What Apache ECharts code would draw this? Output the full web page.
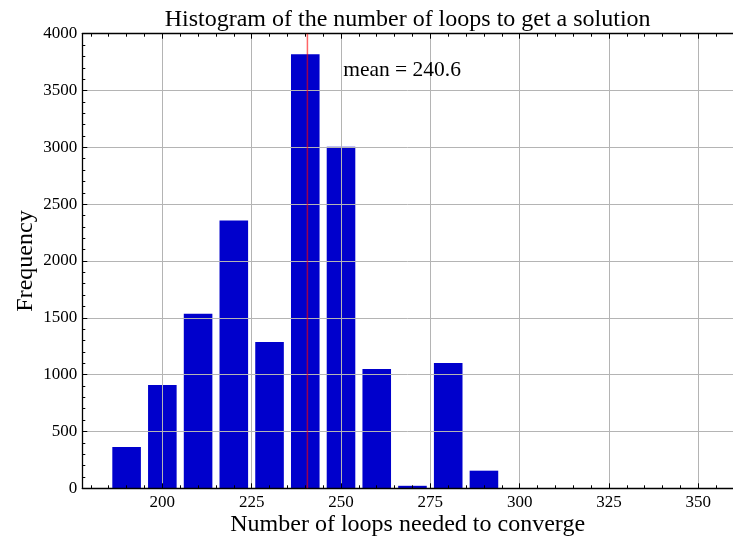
<!DOCTYPE html>
<html>
<head>
<meta charset="utf-8">
<title>Histogram of loops</title>
<script src="https://cdn.jsdelivr.net/npm/echarts@6/dist/echarts.min.js"></script>
<style>
  html, body { margin: 0; padding: 0; background: #ffffff; }
  #chart { width: 733px; height: 537px; }
</style>
</head>
<body>
<div id="chart"></div>
<script>
// Histogram bins: centres of 10-wide bins and their counts
const binCenters = [190, 200, 210, 220, 230, 240, 250, 260, 270, 280, 290];
const binCounts = [363, 909, 1535, 2356, 1287, 3820, 3005, 1050, 22, 1103, 155];
const binWidth = 10;
const barFraction = 0.8;
const meanLoops = 240.6;

// Axis ticks
const xMajorTicks = [200, 225, 250, 275, 300, 325, 350];
const xMinorTicks = [180, 185, 190, 195, 205, 210, 215, 220, 230, 235, 240, 245,
  255, 260, 265, 270, 280, 285, 290, 295, 305, 310, 315, 320, 330, 335, 340, 345, 355];

const FONT = "'Liberation Serif', 'DejaVu Serif', serif";
const xMin = 177.6, xMax = 359.7;

const chart = echarts.init(document.getElementById('chart'), null, { renderer: 'canvas' });

const baseX = {
  type: 'value', min: xMin, max: xMax, z: 5,
  splitLine: { show: false },
  axisLabel: { show: false },
  axisLine: { show: false },
  axisTick: { show: false }
};

chart.setOption({
  animation: false,
  backgroundColor: '#ffffff',
  grid: {
    left: 82.3, right: 0, top: 33.7, bottom: 48.7,
    containLabel: false, outerBoundsMode: 'none'
  },
  xAxis: [
    Object.assign({}, baseX, {
      position: 'bottom',
      name: 'Number of loops needed to converge',
      nameLocation: 'middle',
      nameMoveOverlap: false,
      nameGap: 24,
      nameTextStyle: { fontFamily: FONT, fontSize: 24, color: '#000' },
      axisLine: { show: true, lineStyle: { color: '#000', width: 1.3 } },
      axisTick: { show: true, inside: true, length: 5, customValues: xMajorTicks,
        lineStyle: { color: '#000', width: 1 } },
      axisLabel: { show: true, customValues: xMajorTicks, margin: 6,
        fontFamily: FONT, fontSize: 17, color: '#000' },
      splitLine: { show: true, lineStyle: { color: '#b4b4b4', width: 1 } }
    }),
    Object.assign({}, baseX, {
      position: 'bottom',
      axisTick: { show: true, inside: true, length: 3, customValues: xMinorTicks,
        lineStyle: { color: '#000', width: 1 } }
    }),
    Object.assign({}, baseX, {
      position: 'top',
      name: 'Histogram of the number of loops to get a solution',
      nameLocation: 'middle',
      nameMoveOverlap: false,
      nameGap: 2,
      nameTextStyle: { fontFamily: FONT, fontSize: 24, color: '#000' },
      axisLine: { show: true, lineStyle: { color: '#000', width: 1.3 } },
      axisTick: { show: true, inside: true, length: 5, customValues: xMajorTicks,
        lineStyle: { color: '#000', width: 1 } }
    }),
    Object.assign({}, baseX, {
      position: 'top',
      axisTick: { show: true, inside: true, length: 3, customValues: xMinorTicks,
        lineStyle: { color: '#000', width: 1 } }
    })
  ],
  yAxis: {
    type: 'value', min: 0, max: 4000, interval: 500, z: 5,
    position: 'left',
    name: 'Frequency',
    nameLocation: 'middle',
    nameMoveOverlap: false,
    nameGap: 45,
    nameTextStyle: { fontFamily: FONT, fontSize: 24, color: '#000' },
    axisLine: { show: true, lineStyle: { color: '#000', width: 1.3 } },
    axisTick: { show: true, inside: true, length: 5, lineStyle: { color: '#000', width: 1 } },
    minorTick: { show: true, splitNumber: 5, length: 3, lineStyle: { color: '#000', width: 1 } },
    axisLabel: { margin: 5, fontFamily: FONT, fontSize: 17, color: '#000',
      formatter: function (v) { return String(v); } },
    splitLine: { show: true, lineStyle: { color: '#b4b4b4', width: 1 } }
  },
  series: [
    {
      type: 'custom',
      xAxisIndex: 0,
      z: 2,
      data: binCenters.map((c, i) => [c, binCounts[i]]),
      renderItem: function (params, api) {
        const half = binWidth * barFraction / 2;
        const x = api.value(0), y = api.value(1);
        const topLeft = api.coord([x - half, y]);
        const bottomRight = api.coord([x + half, 0]);
        return {
          type: 'rect',
          shape: { x: topLeft[0], y: topLeft[1],
            width: bottomRight[0] - topLeft[0], height: bottomRight[1] - topLeft[1] },
          style: { fill: '#0000cc', stroke: null, lineWidth: 0 }
        };
      }
    },
    {
      type: 'line',
      xAxisIndex: 0,
      z: 8,
      symbol: 'none',
      silent: true,
      data: [[meanLoops, 0], [meanLoops, 4000]],
      lineStyle: { color: 'rgba(255,0,0,0.6)', width: 1.5 }
    },
    {
      type: 'scatter',
      xAxisIndex: 0,
      z: 8,
      symbolSize: 0,
      silent: true,
      itemStyle: { opacity: 1 },
      data: [[meanLoops + 10, 3680]],
      label: {
        show: true, position: 'right', distance: 0, opacity: 1,
        formatter: 'mean = ' + meanLoops.toFixed(1),
        fontFamily: FONT, fontSize: 21.5, color: '#000'
      }
    }
  ]
});
</script>
</body>
</html>
